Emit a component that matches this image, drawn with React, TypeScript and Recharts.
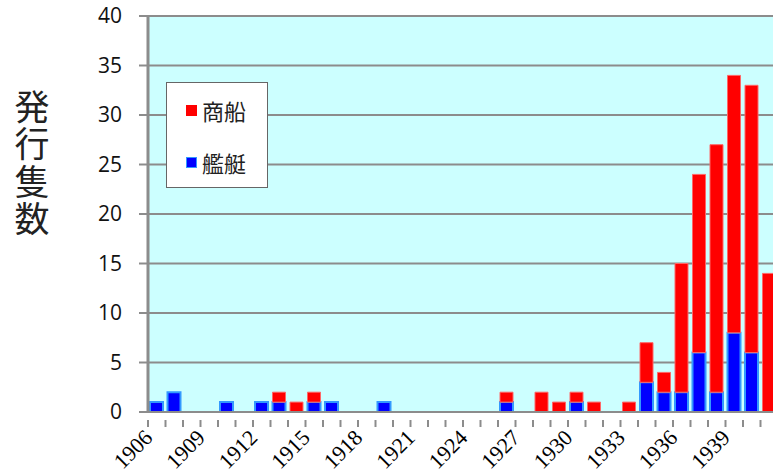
import { BarChart, Bar, XAxis, YAxis, CartesianGrid, Legend, Label } from 'recharts';

// years 1906 .. 1941
const years = [
  '1906', '1907', '1908', '1909', '1910', '1911', '1912', '1913', '1914',
  '1915', '1916', '1917', '1918', '1919', '1920', '1921', '1922', '1923',
  '1924', '1925', '1926', '1927', '1928', '1929', '1930', '1931', '1932',
  '1933', '1934', '1935', '1936', '1937', '1938', '1939', '1940', '1941',
];

// 艦艇 (warships), bottom of the stack
const warships = [
  1, 2, 0, 0, 1, 0, 1, 1, 0,
  1, 1, 0, 0, 1, 0, 0, 0, 0,
  0, 0, 1, 0, 0, 0, 1, 0, 0,
  0, 3, 2, 2, 6, 2, 8, 6, 0,
];

// 商船 (merchant ships), top of the stack
const merchant = [
  0, 0, 0, 0, 0, 0, 0, 1, 1,
  1, 0, 0, 0, 0, 0, 0, 0, 0,
  0, 0, 1, 0, 2, 1, 1, 1, 0,
  1, 4, 2, 13, 18, 25, 26, 27, 14,
];

const yTicks = [0, 5, 10, 15, 20, 25, 30, 35, 40];
const yTitle = '発行隻数';

const data = years.map((year, i) => ({
  year,
  warships: warships[i],
  merchant: merchant[i],
}));

const BAND = 630 / years.length;

const XTick = (props: any) => {
  const { x, y, payload, index } = props;
  const left = x - BAND / 2;
  const ax = x - 3;
  const ay = y + 19;
  return (
    <g>
      <line x1={left} y1={y} x2={left} y2={y + 7} stroke="#8c8c8c" strokeWidth={2} />
      {index % 3 === 0 && (
        <text
          x={ax}
          y={ay}
          textAnchor="end"
          transform={`rotate(-45 ${ax} ${ay})`}
          fontFamily="'Liberation Serif', 'DejaVu Serif', serif"
          fontSize={22}
          fill="#000"
        >
          {payload.value}
        </text>
      )}
    </g>
  );
};

const YTitle = () => (
  <text
    x={32}
    y={89}
    fontFamily="'Noto Sans CJK JP', sans-serif"
    fontSize={35}
    fill="#222"
    style={{ writingMode: 'vertical-rl', letterSpacing: 2.5 }}
  >
    {yTitle}
  </text>
);

const LegendBox = () => (
  <div
    style={{
      width: 102,
      height: 106,
      background: '#fff',
      border: '1px solid #666',
      fontFamily: "'Noto Sans CJK JP', sans-serif",
      fontSize: 22,
      color: '#222',
      boxSizing: 'border-box',
      paddingLeft: 19,
    }}
  >
    <div style={{ display: 'flex', alignItems: 'center', height: 30, marginTop: 12 }}>
      <span style={{ display: 'inline-block', width: 11, height: 11, background: '#ff0000', marginRight: 5 }} />
      商船
    </div>
    <div style={{ display: 'flex', alignItems: 'center', height: 30, marginTop: 22 }}>
      <span
        style={{
          display: 'inline-block',
          width: 9,
          height: 9,
          background: '#0000ff',
          border: '1px solid #3399ff',
          marginRight: 5,
        }}
      />
      艦艇
    </div>
  </div>
);

export default function App() {
  return (
    <div style={{ position: 'absolute', left: 0, top: 0, width: 773, height: 476, overflow: 'hidden', background: '#fff' }}>
      <BarChart
        width={780}
        height={476}
        data={data}
        margin={{ top: 16, right: 2, bottom: 0, left: 0 }}
        barSize={13}
      >
        <CartesianGrid
          vertical={false}
          stroke="#8c8c8c"
          strokeWidth={2}
          fill="#ccffff"
          fillOpacity={1}
        />
        <XAxis
          dataKey="year"
          interval={0}
          height={64}
          tickLine={false}
          axisLine={{ stroke: '#8c8c8c', strokeWidth: 2 }}
          tick={<XTick />}
        />
        <YAxis
          width={148}
          domain={[0, 40]}
          ticks={yTicks}
          interval={0}
          tickSize={9}
          tickMargin={17}
          tickLine={{ stroke: '#8c8c8c', strokeWidth: 2 }}
          axisLine={{ stroke: '#8c8c8c', strokeWidth: 3 }}
          tick={{ fontFamily: "'Open Sans', sans-serif", fontSize: 21, fill: '#111' }}
        >
          <Label content={<YTitle />} />
        </YAxis>
        <Legend
          content={<LegendBox />}
          layout="vertical"
          align="center"
          verticalAlign="middle"
          wrapperStyle={{ position: 'absolute', left: 166, top: 82, width: 102, height: 106 }}
        />
        <Bar
          dataKey="warships"
          stackId="a"
          fill="#0000ff"
          stroke="#3399ff"
          strokeWidth={2}
          isAnimationActive={false}
        />
        <Bar
          dataKey="merchant"
          stackId="a"
          fill="#ff0000"
          stroke="#ff6666"
          strokeWidth={1}
          isAnimationActive={false}
        />
      </BarChart>
    </div>
  );
}
